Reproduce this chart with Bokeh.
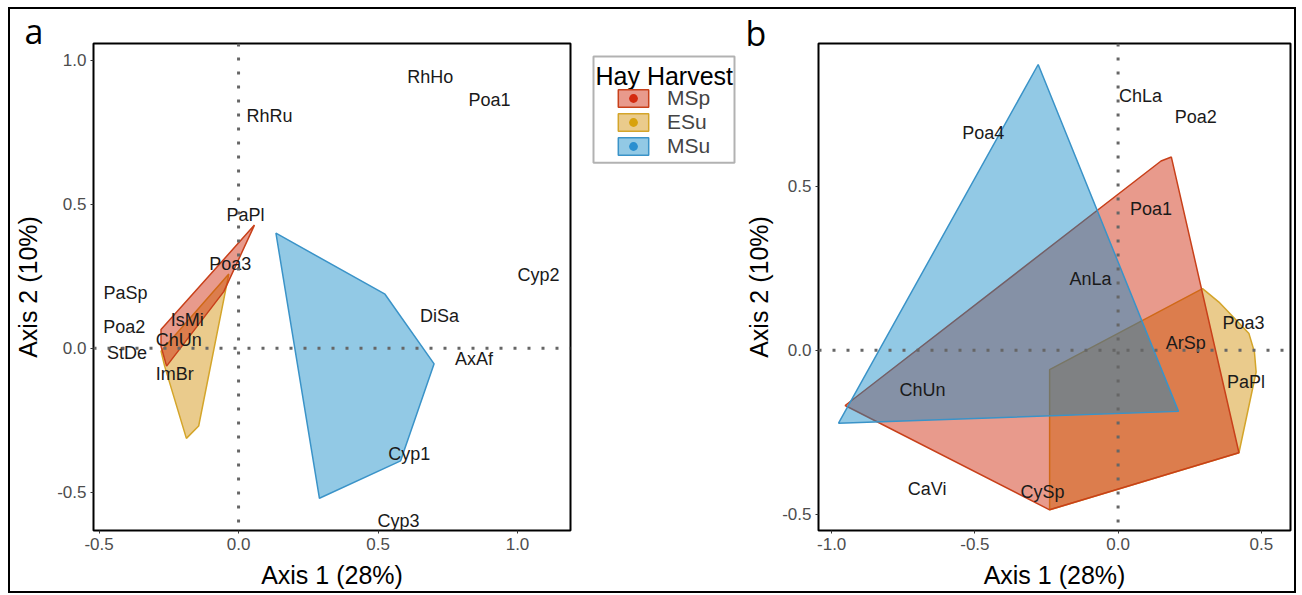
from bokeh.plotting import figure
from bokeh.models import (ColumnDataSource, Span, Legend, LegendItem, Label,
                          BoxAnnotation, FixedTicker, PrintfTickFormatter, Range1d)
from bokeh.layouts import row
from bokeh.embed import file_html
from bokeh.resources import INLINE
from bokeh.core.properties import value

# ---------------- data ----------------
groups = ["MSp", "ESu", "MSu"]
group_fill = {"MSp": "#CC1F00", "ESu": "#D18B00", "MSu": "#0D87C5"}
group_line = {"MSp": "#C8401A", "ESu": "#D4A52A", "MSu": "#3A93C8"}
group_dot = {"MSp": "#D42B10", "ESu": "#D8A20D", "MSu": "#2A8FD0"}

# Panel a hulls
a_MSp_x = [0.057, -0.053, -0.258, -0.278, -0.278]
a_MSp_y = [0.428, 0.197, -0.062, 0.007, 0.065]
a_ESu_x = [-0.035, -0.143, -0.187, -0.265, -0.278]
a_ESu_y = [0.258, -0.270, -0.313, -0.062, -0.010]
a_MSu_x = [0.134, 0.525, 0.701, 0.581, 0.290]
a_MSu_y = [0.400, 0.188, -0.054, -0.391, -0.521]

a_species = ["RhHo", "Poa1", "RhRu", "PaPl", "Poa3", "Cyp2", "PaSp", "DiSa",
             "IsMi", "Poa2", "ChUn", "StDe", "AxAf", "ImBr", "Cyp1", "Cyp3"]
a_sp_x = [0.687, 0.900, 0.111, 0.025, -0.030, 1.075, -0.405, 0.720,
          -0.184, -0.410, -0.214, -0.400, 0.844, -0.229, 0.612, 0.573]
a_sp_y = [0.942, 0.864, 0.806, 0.463, 0.292, 0.254, 0.192, 0.113,
          0.099, 0.073, 0.030, -0.016, -0.036, -0.089, -0.368, -0.601]

# Panel b hulls
b_MSp_x = [-0.953, 0.150, 0.186, 0.422, -0.239]
b_MSp_y = [-0.168, 0.577, 0.589, -0.312, -0.486]
b_ESu_x = [-0.239, 0.295, 0.352, 0.457, 0.476, 0.482, 0.422, -0.239]
b_ESu_y = [-0.059, 0.188, 0.147, 0.051, -0.005, -0.066, -0.312, -0.486]
b_MSu_x = [-0.279, -0.976, 0.211]
b_MSu_y = [0.871, -0.222, -0.186]

b_species = ["Poa4", "ChLa", "Poa2", "Poa1", "AnLa", "Poa3", "ArSp", "PaPl",
             "ChUn", "CaVi", "CySp"]
b_sp_x = [-0.471, 0.078, 0.271, 0.115, -0.096, 0.438, 0.236, 0.447,
          -0.683, -0.667, -0.264]
b_sp_y = [0.663, 0.774, 0.711, 0.432, 0.216, 0.084, 0.023, -0.097,
          -0.120, -0.422, -0.432]

a_xticks = [-0.5, 0.0, 0.5, 1.0]
a_yticks = [-0.5, 0.0, 0.5, 1.0]
b_xticks = [-1.0, -0.5, 0.0, 0.5]
b_yticks = [-0.5, 0.0, 0.5]

x_title = "Axis 1 (28%)"
y_title = "Axis 2 (10%)"
legend_title = "Hay Harvest"

FONT = "Liberation Sans"
NAN = float("nan")
H = 582
TB = 34   # top border (frame top at 43 px on the page)
BB = 58   # bottom border (frame bottom at 533 px)


def make_fig(xr, yr, w, lb, rb, xticks, yticks, panel, poff, pstand, ystand):
    p = figure(width=w, height=H, x_range=Range1d(*xr), y_range=Range1d(*yr),
               output_backend="svg", toolbar_location=None,
               min_border_left=lb, min_border_right=rb,
               min_border_top=TB, min_border_bottom=BB)
    p.grid.visible = False
    p.outline_line_color = "black"
    p.outline_line_width = 2
    p.background_fill_color = "white"
    p.border_fill_color = "white"
    for ax in (p.xaxis[0], p.yaxis[0]):
        ax.axis_line_color = None
        ax.major_tick_line_color = "#333333"
        ax.major_tick_out = 3
        ax.major_tick_in = 0
        ax.minor_tick_line_color = None
        ax.major_label_text_font = FONT
        ax.major_label_text_font_size = "17px"
        ax.major_label_text_color = "#4D4D4D"
        ax.major_label_standoff = 4
        ax.axis_label_text_font = FONT
        ax.axis_label_text_font_size = "25px"
        ax.axis_label_text_font_style = "normal"
        ax.axis_label_text_color = "black"
        ax.formatter = PrintfTickFormatter(format="%.1f")
    p.xaxis[0].ticker = FixedTicker(ticks=xticks)
    p.yaxis[0].ticker = FixedTicker(ticks=yticks)
    p.xaxis[0].axis_label = x_title
    p.yaxis[0].axis_label = y_title
    p.xaxis[0].axis_label_standoff = 8
    p.yaxis[0].axis_label_standoff = ystand
    p.add_layout(Span(location=0, dimension="height", line_color="#666666",
                      line_width=3, line_dash="3 11"))
    p.add_layout(Span(location=0, dimension="width", line_color="#666666",
                      line_width=3, line_dash="3 11"))
    # panel letter
    p.title.text = panel
    p.title.align = "left"
    p.title.offset = poff
    p.title.text_font = "Open Sans"
    p.title.text_font_size = "34px"
    p.title.text_font_style = "normal"
    p.title.text_color = "black"
    p.title.standoff = pstand
    return p


def draw_hulls(p, hulls):
    for g in ["ESu", "MSp", "MSu"]:
        xs, ys = hulls[g]
        p.patch(xs, ys, fill_color=group_fill[g], fill_alpha=0.45,
                line_color=group_line[g], line_width=1.5)


def draw_labels(p, names, xs, ys):
    src = ColumnDataSource(dict(x=xs, y=ys, t=names))
    p.text(x="x", y="y", text="t", source=src, text_align="center",
           text_baseline="middle", text_font=value(FONT),
           text_font_size="18px", text_color="#1A1A1A")


# ---------------- panel a ----------------
pa = make_fig((-0.520, 1.190), (-0.633, 1.059), 565, 83, 5,
              a_xticks, a_yticks, "a", -69, -20, 12)
draw_hulls(pa, {"MSp": (a_MSp_x, a_MSp_y), "ESu": (a_ESu_x, a_ESu_y),
                "MSu": (a_MSu_x, a_MSu_y)})
draw_labels(pa, a_species, a_sp_x, a_sp_y)

# ---------------- legend strip (page coords: x-575, 591-y) ----------------
LW = 167
lf = figure(width=LW, height=H, x_range=Range1d(0, LW),
            y_range=Range1d(BB, H - TB),
            output_backend="svg", toolbar_location=None, title=None,
            x_axis_location=None, y_axis_location=None,
            min_border_left=0, min_border_right=0,
            min_border_top=TB, min_border_bottom=BB)
lf.grid.visible = False
lf.outline_line_color = None
lf.border_fill_color = "white"

items = []
for g in groups:
    sw = lf.patch([NAN, NAN, NAN], [NAN, NAN, NAN], fill_color=group_fill[g],
                  fill_alpha=0.45, line_color=group_line[g], line_width=1.5)
    dot = lf.scatter(x=[NAN], y=[NAN], size=10, marker="circle",
                     fill_color=group_dot[g], line_color=None)
    items.append(LegendItem(label=g, renderers=[sw, dot]))
leg = Legend(items=items, location=(39, 430 - BB),
             border_line_color=None, background_fill_alpha=0.0,
             padding=0, margin=0, spacing=0, glyph_width=38, glyph_height=22,
             label_standoff=15, label_height=22,
             label_text_font=FONT, label_text_font_size="21px")
lf.add_layout(leg, "center")
lf.add_layout(BoxAnnotation(left=18, right=159, bottom=428, top=535,
                            fill_alpha=0.0, line_color="black", line_width=2,
                            level="underlay"))
lf.add_layout(Label(x=20, y=515, text=legend_title, text_font=FONT,
                    text_font_size="25px", text_baseline="middle",
                    text_align="left", text_color="black"))

# ---------------- panel b ----------------
pb = make_fig((-1.046, 0.602), (-0.549, 0.935), 552, 72, 4,
              b_xticks, b_yticks, "b", -73, -24, 6)
draw_hulls(pb, {"MSp": (b_MSp_x, b_MSp_y), "ESu": (b_ESu_x, b_ESu_y),
                "MSu": (b_MSu_x, b_MSu_y)})
draw_labels(pb, b_species, b_sp_x, b_sp_y)

layout = row(pa, lf, pb, margin=(7, 0, 0, 8),
             styles={"border": "2px solid black"})

with open("out.html", "w") as f:
    f.write(file_html(layout, INLINE))
